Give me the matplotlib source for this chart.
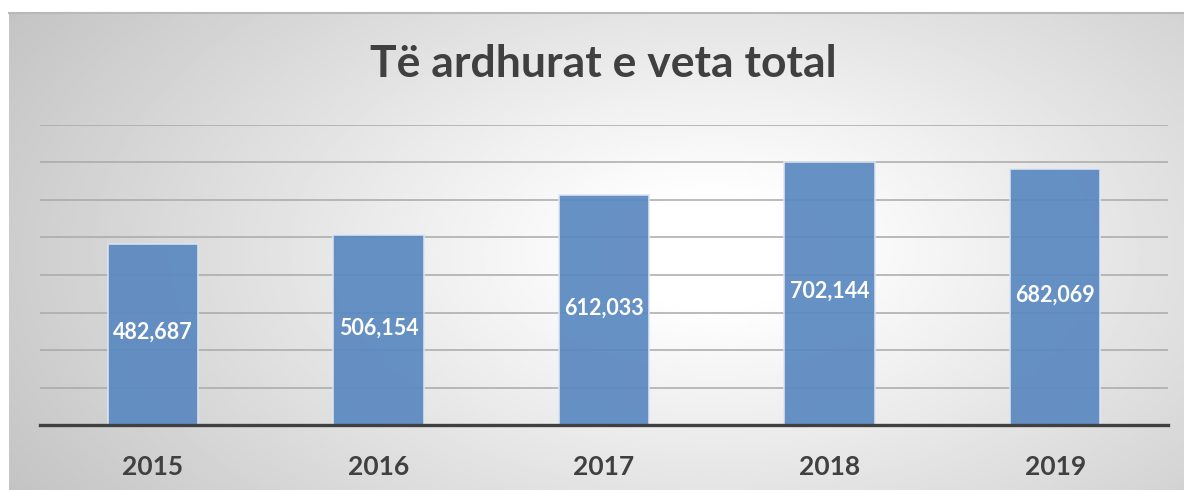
import matplotlib
matplotlib.use("Agg")
import matplotlib.pyplot as plt
import numpy as np

# data
years = ["2015", "2016", "2017", "2018", "2019"]
values = [482687, 506154, 612033, 702144, 682069]
title = "Të ardhurat e veta total"

W, H = 1184, 490
fig = plt.figure(figsize=(W / 100, H / 100), dpi=100)
fig.patch.set_facecolor("white")

# fond gris avec dégradé radial
bg = fig.add_axes([9 / W, 0, 1 - 9 / W, (H - 13) / H])
gx, gy = np.meshgrid(np.linspace(0, 1, 400), np.linspace(0, 1, 200))
r = np.sqrt(((gx - 0.6) / 0.72) ** 2 + ((gy - 0.5) / 1.0) ** 2)
shade = np.clip(1.03 - 0.27 * r, 0.76, 1.0)
bg.imshow(shade, cmap="gray", vmin=0, vmax=1, aspect="auto", extent=[0, 1, 0, 1])
bg.set_xticks([])
bg.set_yticks([])
for s in ["left", "right", "bottom"]:
    bg.spines[s].set_visible(False)
bg.spines["top"].set_color("#b8b8b8")
bg.spines["top"].set_linewidth(1.5)

ax = fig.add_axes([40 / W, (H - 425) / H, 1128 / W, 300 / H])
ax.patch.set_alpha(0)
x = np.arange(len(years))
bars = ax.bar(x, values, width=0.4, color="#5b89c1", alpha=0.93,
              edgecolor="#dde6f2", linewidth=1.2, zorder=3)
ax.set_xlim(-0.5, len(years) - 0.5)
ax.set_ylim(0, 800000)
ax.set_yticks(np.arange(0, 800001, 100000))
ax.yaxis.grid(True, color="#a9a9a9", linewidth=1.1, zorder=1)
ax.tick_params(axis="y", left=False, labelleft=False)
ax.tick_params(axis="x", bottom=False, pad=18)
ax.set_xticks(x)
ax.set_xticklabels(years, fontsize=19, fontweight="bold", color="#404040",
                   family="Lato")
for s in ["left", "right", "top"]:
    ax.spines[s].set_visible(False)
ax.spines["bottom"].set_color("#404040")
ax.spines["bottom"].set_linewidth(2.4)
ax.spines["bottom"].set_zorder(4)

for xi, v in zip(x, values):
    ax.text(xi, v / 2 + 6000, f"{v:,}", ha="center", va="center", color="white",
            fontsize=15.5, fontweight="bold", family="Lato", zorder=5)

fig.text(603 / W, (H - 64) / H, title, ha="center", va="center",
         fontsize=32, fontweight="bold", color="#404040", family="Lato")

fig.savefig("out.png", dpi=100)
